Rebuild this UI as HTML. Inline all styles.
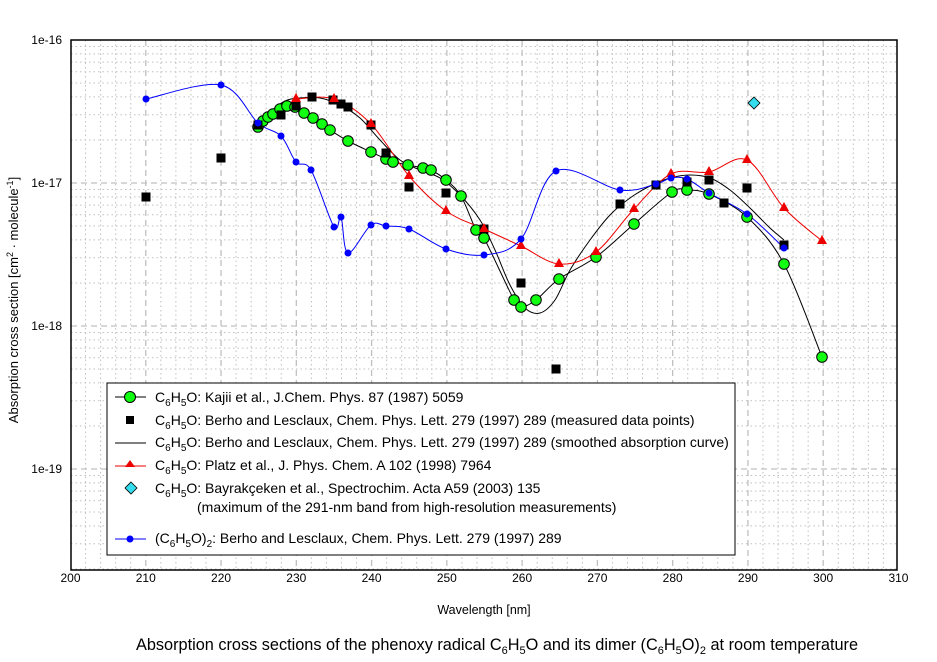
<!DOCTYPE html>
<html><head><meta charset="utf-8"><style>
body{margin:0;background:#fff;}
svg{display:block;font-family:"Liberation Sans",Arial,sans-serif;}
</style></head><body>
<svg id="s" width="937" height="662" xmlns="http://www.w3.org/2000/svg">
<rect width="937" height="662" fill="#fff"/>
<g id="grid"></g>
<g id="series"></g>
<rect x="71" y="40" width="826" height="530" fill="none" stroke="#000" stroke-width="1.5"/>
<g font-size="12" text-anchor="end">
<text x="62" y="44">1e-16</text>
<text x="62" y="187">1e-17</text>
<text x="62" y="330">1e-18</text>
<text x="62" y="473">1e-19</text>
</g>
<g id="xt" font-size="12" text-anchor="middle"></g>
<text x="484" y="614" font-size="12.5" text-anchor="middle">Wavelength [nm]</text>
<text transform="translate(18,300) rotate(-90)" font-size="13" text-anchor="middle">Absorption cross section [cm<tspan dy="-5" font-size="9">2</tspan><tspan dy="5"> · molecule</tspan><tspan dy="-5" font-size="9">-1</tspan><tspan dy="5">]</tspan></text>
<text x="497" y="650" font-size="16.3" text-anchor="middle">Absorption cross sections of the phenoxy radical C<tspan dy="4" font-size="11">6</tspan><tspan dy="-4">H</tspan><tspan dy="4" font-size="11">5</tspan><tspan dy="-4">O and its dimer (C</tspan><tspan dy="4" font-size="11">6</tspan><tspan dy="-4">H</tspan><tspan dy="4" font-size="11">5</tspan><tspan dy="-4">O)</tspan><tspan dy="4" font-size="11">2</tspan><tspan dy="-4"> at room temperature</tspan></text>
<g id="legend">
<rect x="107" y="383" width="628" height="172" fill="#fff" stroke="#000" stroke-width="1"/>
<g font-size="14">
<line x1="115" y1="397" x2="146" y2="397" stroke="#000"/><circle cx="130" cy="397" r="5.5" fill="#1f1" stroke="#000"/>
<text x="155" y="402">C<tspan dy="4" font-size="10">6</tspan><tspan dy="-4">H</tspan><tspan dy="4" font-size="10">5</tspan><tspan dy="-4">O: Kajii et al., J.Chem. Phys. 87 (1987) 5059</tspan></text>
<rect x="126" y="416" width="8" height="8" fill="#000"/>
<text x="155" y="425">C<tspan dy="4" font-size="10">6</tspan><tspan dy="-4">H</tspan><tspan dy="4" font-size="10">5</tspan><tspan dy="-4">O: Berho and Lesclaux, Chem. Phys. Lett. 279 (1997) 289  (measured data points)</tspan></text>
<line x1="115" y1="443" x2="146" y2="443" stroke="#000"/>
<text x="155" y="447">C<tspan dy="4" font-size="10">6</tspan><tspan dy="-4">H</tspan><tspan dy="4" font-size="10">5</tspan><tspan dy="-4">O: Berho and Lesclaux, Chem. Phys. Lett. 279 (1997) 289 (smoothed absorption curve)</tspan></text>
<line x1="115" y1="466" x2="146" y2="466" stroke="#e00"/><polygon points="130,460 135,467 125,467" fill="#e00"/>
<text x="155" y="470">C<tspan dy="4" font-size="10">6</tspan><tspan dy="-4">H</tspan><tspan dy="4" font-size="10">5</tspan><tspan dy="-4">O: Platz et al., J. Phys. Chem. A 102 (1998) 7964</tspan></text>
<polygon points="131,482 137,488 131,494 125,488" fill="#3de" stroke="#000" stroke-width=".8"/>
<text x="155" y="493">C<tspan dy="4" font-size="10">6</tspan><tspan dy="-4">H</tspan><tspan dy="4" font-size="10">5</tspan><tspan dy="-4">O: Bayrakçeken et al., Spectrochim. Acta A59 (2003) 135</tspan></text>
<text x="197" y="512">(maximum of the 291-nm band from high-resolution measurements)</text>
<line x1="115" y1="539" x2="146" y2="539" stroke="#00f"/><circle cx="130" cy="539" r="3.5" fill="#00f"/>
<text x="155" y="543">(C<tspan dy="4" font-size="10">6</tspan><tspan dy="-4">H</tspan><tspan dy="4" font-size="10">5</tspan><tspan dy="-4">O)</tspan><tspan dy="4" font-size="10">2</tspan><tspan dy="-4">: Berho and Lesclaux, Chem. Phys. Lett. 279 (1997) 289</tspan></text>
</g></g>
</svg>
<script>
var NS="http://www.w3.org/2000/svg";
function el(p,t,a){var e=document.createElementNS(NS,t);for(var k in a)e.setAttribute(k,a[k]);p.appendChild(e);return e;}
var g=document.getElementById("grid"),L=71,R=897,T=40,B=570;
function X(nm){return 70.5+(nm-200)*7.527;}
for(var nm=200;nm<=310;nm+=2){var x=X(nm);var maj=(nm%10==0);
 if(x>L+1&&x<R-1) el(g,"line",{x1:x,y1:T,x2:x,y2:B,stroke:"#c0c0c0","stroke-width":maj?1.3:1,"stroke-dasharray":maj?"6,4":"1.5,3"});}
var bases=[40,183,326,469,612];
for(var i=1;i<bases.length;i++){for(var k=1;k<=9;k++){var y=bases[i]-Math.log10(k)*143;if(y<=T+1||y>=B-1)continue;
 el(g,"line",{x1:L,y1:y,x2:R,y2:y,stroke:"#c0c0c0","stroke-width":k==1?1.3:1,"stroke-dasharray":k==1?"6,4":"1.5,3"});}}
var xt=document.getElementById("xt");
for(var nm=200;nm<=310;nm+=10){var t=el(xt,"text",{x:X(nm),y:582});t.textContent=nm;}
function cr(p){var d="M"+p[0][0]+","+p[0][1];for(var i=0;i<p.length-1;i++){var p0=p[i-1]||p[i],p1=p[i],p2=p[i+1],p3=p[i+2]||p2;
 d+=" C"+(p1[0]+(p2[0]-p0[0])/6)+","+(p1[1]+(p2[1]-p0[1])/6)+" "+(p2[0]-(p3[0]-p1[0])/6)+","+(p2[1]-(p3[1]-p1[1])/6)+" "+p2[0]+","+p2[1];}return d;}
var s=document.getElementById("series");
var green=[[258,127],[263,121],[268,117],[273,114],[280,109],[287,106],[295,107],[304,113],[313,118],[322,124],[330,130],[348,141],[371,152],[386,159],[393,162],[408,165],[423,168],[431,170],[446,180],[461,196],[476,230],[484,238],[514,300],[521,307],[536,300],[559,279],[596,257],[634,224],[672,192],[687,190],[709,194],[747,217],[784,264],[822,357]];
var sq=[[146,197],[221,158],[258,125],[281,115],[296,106],[312,97],[333,100],[341,104],[348,107],[371,125],[386,153],[409,187],[446,193],[484,229],[521,283],[556,369],[620,204],[656,185],[687,182],[709,180],[724,203],[747,188],[784,245]];
var smooth=[[258,125],[270,112],[285,101],[300,98],[320,98],[340,105],[360,118],[380,140],[400,160],[420,170],[440,178],[460,195],[480,220],[495,250],[510,285],[525,308],[540,313],[555,300],[570,270],[590,240],[610,215],[630,198],[650,186],[670,178],[690,175],[710,178],[730,190],[750,208],[770,228],[784,240]];
var red=[[296,99],[334,99],[371,124],[409,176],[446,211],[484,229],[521,246],[559,264],[596,252],[634,209],[671,174],[709,172],[747,160],[784,208],[822,241]];
var blue=[[146,99],[221,85],[258,123],[281,136],[296,162],[311,170],[334,227],[341,217],[348,253],[371,225],[386,226],[409,229],[446,249],[484,255],[521,239],[556,171],[620,190],[656,184],[671,178],[687,179],[709,193],[747,214],[784,248]];
el(s,"path",{d:cr(smooth),fill:"none",stroke:"#000","stroke-width":1});
el(s,"path",{d:cr(green),fill:"none",stroke:"#000","stroke-width":1});
el(s,"path",{d:cr(red),fill:"none",stroke:"#e00","stroke-width":1});
el(s,"path",{d:cr(blue),fill:"none",stroke:"#00f","stroke-width":1});
green.forEach(function(p){el(s,"circle",{cx:p[0],cy:p[1],r:5.3,fill:"#1f1",stroke:"#000","stroke-width":1});});
sq.forEach(function(p){el(s,"rect",{x:p[0]-4.5,y:p[1]-4.5,width:9,height:9,fill:"#000"});});
red.forEach(function(p){el(s,"polygon",{points:p[0]+","+(p[1]-6)+" "+(p[0]+5)+","+(p[1]+3)+" "+(p[0]-5)+","+(p[1]+3),fill:"#e00"});});
blue.forEach(function(p){el(s,"circle",{cx:p[0],cy:p[1],r:3.5,fill:"#00f"});});
el(s,"polygon",{points:"754,97 760,103 754,109 748,103",fill:"#3de",stroke:"#000","stroke-width":0.8});
</script>
</body></html>
